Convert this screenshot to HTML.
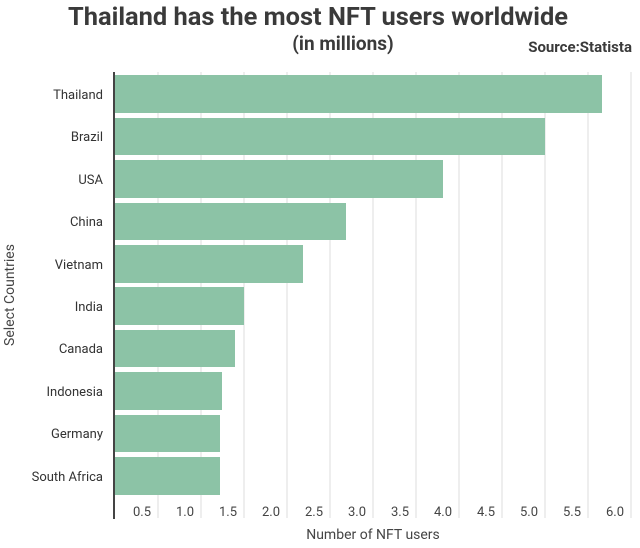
<!DOCTYPE html><html><head><style>body{margin:0;background:#fff}</style></head><body>
<svg width="640" height="543" xmlns="http://www.w3.org/2000/svg" font-family="Roboto,'Liberation Sans',sans-serif">
<rect width="640" height="543" fill="#fff"/>
<text x="318" y="25" text-anchor="middle" font-size="25" font-weight="bold" fill="#3a3a3a" textLength="500" lengthAdjust="spacingAndGlyphs">Thailand has the most NFT users worldwide</text>
<text x="343" y="50" text-anchor="middle" font-size="19" font-weight="bold" fill="#3a3a3a">(in millions)</text>
<text x="632" y="52" text-anchor="end" font-size="15" font-weight="bold" fill="#3a3a3a">Source:Statista</text>
<g stroke="#ddd" stroke-width="1">
<line x1="158" y1="72" x2="158" y2="518"/><line x1="201" y1="72" x2="201" y2="518"/><line x1="244" y1="72" x2="244" y2="518"/><line x1="287" y1="72" x2="287" y2="518"/><line x1="330" y1="72" x2="330" y2="518"/><line x1="373" y1="72" x2="373" y2="518"/><line x1="416" y1="72" x2="416" y2="518"/><line x1="459" y1="72" x2="459" y2="518"/><line x1="502" y1="72" x2="502" y2="518"/><line x1="545" y1="72" x2="545" y2="518"/><line x1="588" y1="72" x2="588" y2="518"/><line x1="631" y1="72" x2="631" y2="518"/>
</g>
<g fill="#8cc3a6">
<rect x="115" y="75" width="487" height="38"/>
<rect x="115" y="118" width="430" height="37"/>
<rect x="115" y="160" width="328" height="38"/>
<rect x="115" y="203" width="231" height="37"/>
<rect x="115" y="245" width="188" height="38"/>
<rect x="115" y="287" width="129" height="38"/>
<rect x="115" y="330" width="120" height="37"/>
<rect x="115" y="372" width="107" height="38"/>
<rect x="115" y="415" width="105" height="37"/>
<rect x="115" y="457" width="105" height="38"/>
</g>
<line x1="114" y1="72" x2="114" y2="519" stroke="#444" stroke-width="2"/>
<g font-size="13" fill="#333" text-anchor="end">
<text x="103" y="99">Thailand</text><text x="103" y="141">Brazil</text><text x="103" y="184">USA</text><text x="103" y="226">China</text><text x="103" y="269">Vietnam</text><text x="103" y="311">India</text><text x="103" y="353">Canada</text><text x="103" y="396">Indonesia</text><text x="103" y="438">Germany</text><text x="103" y="481">South Africa</text>
</g>
<g font-size="13" fill="#444" text-anchor="middle">
<text x="142" y="516">0.5</text><text x="185" y="516">1.0</text><text x="228" y="516">1.5</text><text x="271" y="516">2.0</text><text x="314" y="516">2.5</text><text x="357" y="516">3.0</text><text x="400" y="516">3.5</text><text x="443" y="516">4.0</text><text x="486" y="516">4.5</text><text x="529" y="516">5.0</text><text x="572" y="516">5.5</text><text x="615" y="516">6.0</text>
</g>
<text x="373" y="539" text-anchor="middle" font-size="14" fill="#444">Number of NFT users</text>
<text transform="translate(14,295) rotate(-90)" text-anchor="middle" font-size="14" fill="#444">Select Countries</text>
</svg>
</body></html>
